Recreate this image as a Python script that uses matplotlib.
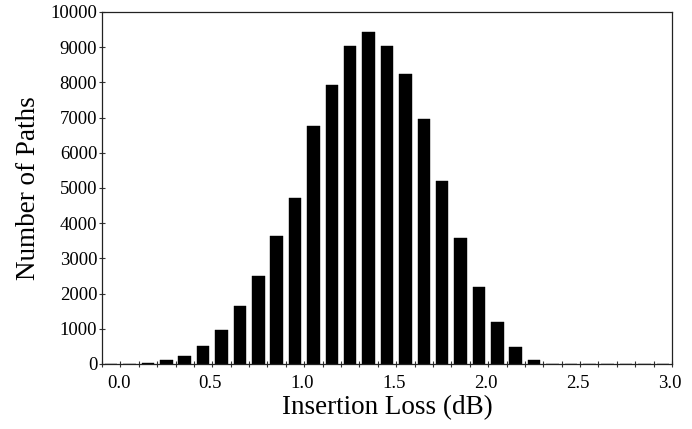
import matplotlib
matplotlib.use("Agg")
import matplotlib.pyplot as plt
import numpy as np

# Categories: insertion loss 0.0 .. 3.0 dB in 0.1 steps
loss_db = [round(0.1 * i, 1) for i in range(31)]
paths = [0, 0, 30, 114, 227, 511, 966, 1648, 2500, 3636, 4716,
         6761, 7912, 9034, 9423, 9034, 8239, 6970, 5190, 3580, 2190,
         1200, 474, 114, 0, 0, 0, 0, 0, 0, 0]
xtick_labels = ["0.0", "0.5", "1.0", "1.5", "2.0", "2.5", "3.0"]
ytick_values = list(range(0, 10001, 1000))

plt.rcParams["font.family"] = ["Liberation Serif", "DejaVu Serif"]

fig = plt.figure(figsize=(6.92, 4.29), dpi=100)
ax = fig.add_axes([102 / 692, 1 - 364 / 429, 570 / 692, 352 / 429])

idx = np.arange(len(loss_db))
ax.bar(idx, paths, width=0.68, color="black", edgecolor="black", linewidth=0.3)

ax.set_xlim(-0.5, len(loss_db) - 0.5)
ax.set_ylim(0, 10000)

# tick marks at category boundaries
ax.set_xticks(np.arange(len(loss_db) + 1) - 0.5)
ax.set_xticklabels([])
ax.tick_params(axis="x", which="major", direction="inout", length=5, width=0.8, color="#333333")
# labels every 5 categories (slightly offset to the right as in the reference)
lab_pos = [i + 0.4 for i in range(0, 31, 5)]
ax.set_xticks(lab_pos, minor=True)
ax.set_xticklabels(xtick_labels, minor=True, fontsize=13.5)
ax.tick_params(axis="x", which="minor", length=0, pad=8)

ax.set_yticks(ytick_values)
ax.set_yticklabels([str(v) for v in ytick_values], fontsize=13.5)
ax.tick_params(axis="y", direction="inout", length=5, width=0.8, color="#333333", pad=1)

for s in ax.spines.values():
    s.set_linewidth(0.9)
    s.set_color("#222222")

ax.set_xlabel("Insertion Loss (dB)", fontsize=19.5, labelpad=2)
ax.set_ylabel("Number of Paths", fontsize=19.5, labelpad=7)

fig.savefig("out.png", dpi=100)
